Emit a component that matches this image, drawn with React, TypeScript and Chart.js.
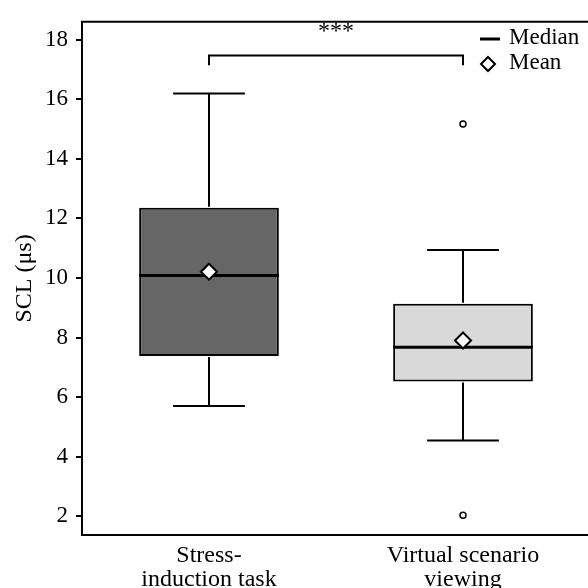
import React, { useEffect, useRef } from "react";
import { Chart, registerables } from "chart.js";

Chart.register(...registerables);

const CATEGORIES: string[][] = [["Stress-", "induction task"], ["Virtual scenario", "viewing"]];
const Q1 = [7.38, 6.52];
const Q3 = [12.36, 9.13];
const MEDIAN = [10.08, 7.67];
const MEAN = [10.21, 7.9];
const WHISKER_LOW = [5.7, 4.54];
const WHISKER_HIGH = [16.19, 10.94];
const OUTLIERS: number[][] = [[], [15.17, 2.03]];
const BOX_COLORS = ["#666666", "#d9d9d9"];
const Y_TICKS = [2, 4, 6, 8, 10, 12, 14, 16, 18];
const Y_MIN = 1.37;
const Y_MAX = 18.6;
const SIG_LEVEL = 17.47;
const SIG_DROP = 17.14;
const SIG_TEXT = "***";
const Y_TITLE = "SCL (μs)";
const LEGEND_LABELS = ["Median", "Mean"];

const FONT = "'Liberation Serif', 'Times New Roman', serif";

export default function App() {
  const ref = useRef<HTMLCanvasElement | null>(null);

  useEffect(() => {
    if (!ref.current) return;
    const boxPlugin = {
      id: "boxParts",
      afterDatasetDraw(chart: any, args: any) {
        if (args.index !== 0) return;
        const ctx = chart.ctx;
        const ys = chart.scales.y;
        const meta = chart.getDatasetMeta(0);
        ctx.save();
        ctx.strokeStyle = "#000";
        ctx.lineCap = "butt";
        meta.data.forEach((bar: any, i: number) => {
          const x = bar.x;
          const hw = bar.width / 2;
          const capHw = bar.width * 0.257;
          const yQ1 = ys.getPixelForValue(Q1[i]);
          const yQ3 = ys.getPixelForValue(Q3[i]);
          const yLo = ys.getPixelForValue(WHISKER_LOW[i]);
          const yHi = ys.getPixelForValue(WHISKER_HIGH[i]);
          ctx.lineWidth = 2;
          ctx.beginPath();
          ctx.moveTo(x, yQ3 - 1);
          ctx.lineTo(x, yHi);
          ctx.moveTo(x - capHw, yHi);
          ctx.lineTo(x + capHw, yHi);
          ctx.moveTo(x, yQ1 + 1);
          ctx.lineTo(x, yLo);
          ctx.moveTo(x - capHw, yLo);
          ctx.lineTo(x + capHw, yLo);
          ctx.stroke();
          const yMed = ys.getPixelForValue(MEDIAN[i]);
          ctx.lineWidth = 3;
          ctx.beginPath();
          ctx.moveTo(x - hw, yMed);
          ctx.lineTo(x + hw, yMed);
          ctx.stroke();
        });
        ctx.restore();
      },
      afterDraw(chart: any) {
        const ctx = chart.ctx;
        const ys = chart.scales.y;
        const xs = chart.scales.x;
        const area = chart.chartArea;
        ctx.save();
        ctx.strokeStyle = "#000";
        ctx.fillStyle = "#000";
        ctx.lineWidth = 2;
        ctx.beginPath();
        ctx.moveTo(area.left - 1, area.top);
        ctx.lineTo(chart.width, area.top);
        ctx.stroke();
        const x0 = xs.getPixelForValue(0);
        const x1 = xs.getPixelForValue(1);
        const yb = ys.getPixelForValue(SIG_LEVEL);
        const yd = ys.getPixelForValue(SIG_DROP);
        ctx.beginPath();
        ctx.moveTo(x0, yd);
        ctx.lineTo(x0, yb);
        ctx.lineTo(x1, yb);
        ctx.lineTo(x1, yd);
        ctx.stroke();
        ctx.font = `24px ${FONT}`;
        ctx.textAlign = "center";
        ctx.textBaseline = "alphabetic";
        ctx.fillText(SIG_TEXT, (x0 + x1) / 2, yb - 17);
        const lx = 480;
        ctx.lineWidth = 3;
        ctx.beginPath();
        ctx.moveTo(lx, 39);
        ctx.lineTo(lx + 20, 39);
        ctx.stroke();
        ctx.lineWidth = 2;
        ctx.fillStyle = "#fff";
        ctx.beginPath();
        ctx.moveTo(lx + 8, 64 - 7);
        ctx.lineTo(lx + 15, 64);
        ctx.lineTo(lx + 8, 64 + 7);
        ctx.lineTo(lx + 1, 64);
        ctx.closePath();
        ctx.fill();
        ctx.stroke();
        ctx.fillStyle = "#000";
        ctx.font = `23px ${FONT}`;
        ctx.textAlign = "left";
        ctx.textBaseline = "middle";
        ctx.fillText(LEGEND_LABELS[0], 509, 38);
        ctx.fillText(LEGEND_LABELS[1], 509, 63);
        ctx.restore();
      },
    };

    const maxOut = Math.max(...OUTLIERS.map((a) => a.length));
    const outlierSets = [] as any[];
    for (let k = 0; k < maxOut; k++) {
      outlierSets.push({
        type: "line",
        data: OUTLIERS.map((a) => (k < a.length ? a[k] : null)),
        showLine: false,
        pointStyle: "circle",
        pointRadius: 3,
        pointBackgroundColor: "#fff",
        pointBorderColor: "#000",
        pointBorderWidth: 1.5,
        order: 0,
      });
    }

    const chart = new Chart(ref.current, {
      type: "bar",
      data: {
        labels: CATEGORIES as any,
        datasets: [
          {
            type: "bar",
            data: Q1.map((q, i) => [q, Q3[i]]) as any,
            backgroundColor: BOX_COLORS,
            borderColor: "#000",
            borderWidth: 2,
            borderSkipped: false,
            barPercentage: 0.55,
            categoryPercentage: 1,
            order: 2,
          } as any,
          {
            type: "line",
            data: MEAN as any,
            showLine: false,
            pointStyle: "rectRot",
            pointRadius: 8,
            pointBackgroundColor: "#fff",
            pointBorderColor: "#000",
            pointBorderWidth: 2,
            order: 0,
          } as any,
          ...outlierSets,
        ],
      },
      options: {
        responsive: false,
        animation: false,
        devicePixelRatio: 1,
        layout: { padding: { left: 0, top: 13, right: 10, bottom: 0 } },
        plugins: { legend: { display: false }, tooltip: { enabled: false } },
        scales: {
          x: {
            offset: true,
            grid: { display: false, drawTicks: false },
            border: { display: true, color: "#000", width: 2 },
            ticks: {
              color: "#000",
              padding: 9,
              maxRotation: 0,
              font: { family: FONT, size: 24, lineHeight: 1.0 },
            },
            afterFit: (s: any) => {
              s.height = 53;
            },
          },
          y: {
            min: Y_MIN,
            max: Y_MAX,
            afterBuildTicks: (s: any) => {
              s.ticks = Y_TICKS.map((v) => ({ value: v }));
            },
            afterFit: (s: any) => {
              s.width = 82;
            },
            grid: { drawOnChartArea: false, drawTicks: true, tickLength: 6, color: "#000", lineWidth: 2 },
            border: { display: true, color: "#000", width: 2 },
            ticks: {
              color: "#000",
              padding: 8,
              font: { family: FONT, size: 23 },
            },
            title: {
              display: true,
              text: Y_TITLE,
              color: "#000",
              padding: { top: 10, bottom: 0 },
              font: { family: FONT, size: 24 },
            },
          },
        },
      },
      plugins: [boxPlugin],
    });
    return () => chart.destroy();
  }, []);

  return (
    <div style={{ position: "absolute", left: 0, top: 0, width: 588, height: 588, overflow: "hidden", background: "#fff" }}>
      <canvas ref={ref} width={600} height={588} style={{ display: "block" }} />
    </div>
  );
}
